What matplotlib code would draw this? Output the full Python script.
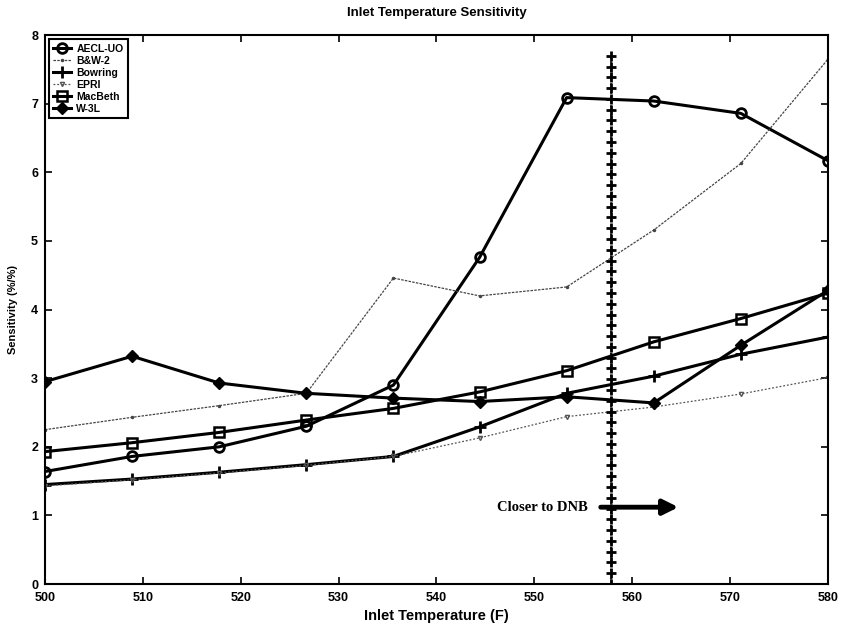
import numpy as np
import matplotlib
matplotlib.use("Agg")
import matplotlib.pyplot as plt

plt.rcParams['font.family'] = ['Liberation Sans', 'DejaVu Sans']

# inlet temperature (F) at each computed case
temps = [500, 508.9, 517.8, 526.7, 535.6, 544.4, 553.3, 562.2, 571.1, 580]

aecl    = [1.64, 1.86, 2.00, 2.30, 2.90, 4.76, 7.09, 7.04, 6.86, 6.17]
bw2     = [2.25, 2.43, 2.60, 2.78, 4.46, 4.20, 4.33, 5.16, 6.13, 7.65]
bowring = [1.45, 1.53, 1.63, 1.74, 1.86, 2.29, 2.78, 3.03, 3.35, 3.60]
epri    = [1.43, 1.52, 1.62, 1.73, 1.86, 2.13, 2.44, 2.58, 2.77, 3.01]
macbeth = [1.93, 2.06, 2.21, 2.39, 2.56, 2.80, 3.11, 3.53, 3.87, 4.24]
w3l     = [2.95, 3.32, 2.93, 2.78, 2.71, 2.66, 2.73, 2.64, 3.48, 4.28]

# nominal operating point marker line
dnb_x = 557.8
dnb_top = 7.7

fig = plt.figure(figsize=(8.41, 6.28), dpi=100)
ax = fig.add_axes([0.0535, 0.070, 0.931, 0.874])

ax.plot(temps, aecl, color="black", lw=2.2, marker="o", ms=7, mfc="none", mew=2, label="AECL-UO")
ax.plot(temps, bw2, color="#444444", lw=0.9, ls=(0, (2, 1)), marker=".", ms=3, label="B&W-2")
ax.plot(temps, bowring, color="black", lw=2.2, marker="+", ms=8, mew=2, label="Bowring")
ax.plot(temps, epri, color="#555555", lw=0.9, ls=(0, (1.5, 1.5)), marker="v", ms=3, mfc="none", label="EPRI")
ax.plot(temps, macbeth, color="black", lw=2.2, marker="s", ms=7, mfc="none", mew=1.8, label="MacBeth")
ax.plot(temps, w3l, color="black", lw=2.2, marker="D", ms=6, label="W-3L")

dnb_y = np.linspace(0, dnb_top, 50)
ax.plot([dnb_x] * len(dnb_y), dnb_y, color="black", lw=1.2, ls=":",
        marker="+", ms=7, mew=2)

ax.annotate("", xy=(565.0, 1.12), xytext=(556.5, 1.12),
            arrowprops=dict(arrowstyle="-|>,head_length=0.9,head_width=0.45",
                            color="black", lw=3.5))
ax.text(555.5, 1.12, "Closer to DNB", ha="right", va="center",
        fontsize=10.5, fontweight="bold", family=["Liberation Serif", "DejaVu Serif"])

ax.set_xlim(500, 580)
ax.set_ylim(0, 8)
ax.set_xticks(range(500, 581, 10))
ax.set_yticks(range(0, 9))
ax.tick_params(direction="in", top=True, right=True, length=5, width=1.2, labelsize=9)
ax.tick_params(axis="x", pad=6)
ax.tick_params(axis="y", pad=5)
for lab in ax.get_xticklabels() + ax.get_yticklabels():
    lab.set_fontweight("bold")
for s in ax.spines.values():
    s.set_linewidth(1.5)

ax.set_xlabel("Inlet Temperature (F)", fontsize=10.5, fontweight="bold", labelpad=3)
ax.set_ylabel("Sensitivity (%/%)", fontsize=8, fontweight="bold", labelpad=9)
ax.set_title("Inlet Temperature Sensitivity", fontsize=9.5, fontweight="bold", pad=14)

leg = ax.legend(loc="upper left", prop=dict(weight="bold", size=7.5),
                handlelength=1.7, borderaxespad=0.4, labelspacing=0.2,
                handletextpad=0.5, fancybox=False, edgecolor="black", framealpha=1)
leg.get_frame().set_linewidth(1.5)

fig.savefig("out.png", dpi=100)
